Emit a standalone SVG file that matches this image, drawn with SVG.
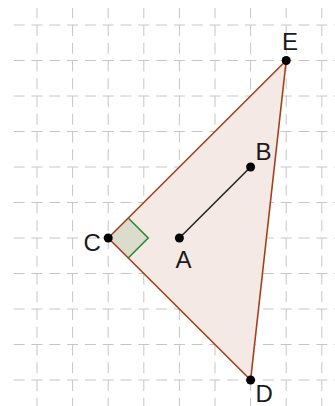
<svg xmlns="http://www.w3.org/2000/svg" width="335" height="406" viewBox="0 0 335 406">
  <style>
    .gh { stroke: #c6c6c6; stroke-width: 1; stroke-dasharray: 11 6.8; stroke-dashoffset: 16.1; fill: none; }
    .gv { stroke: #c6c6c6; stroke-width: 1; stroke-dasharray: 11 6.75; stroke-dashoffset: 0.75; fill: none; }
    .pt { fill: #000; }
    .lbl { font-family: "Liberation Sans", Arial, sans-serif; font-size: 24px; fill: #1a1a1a; }
    .edge { stroke: #a3401a; stroke-width: 1.6; fill: none; stroke-linecap: round; }
  </style>
  <rect width="335" height="406" fill="#ffffff"/>
  <g id="grid">
    <line class="gh" x1="12" y1="25" x2="335" y2="25"/>
    <line class="gh" x1="12" y1="60.5" x2="335" y2="60.5"/>
    <line class="gh" x1="12" y1="96" x2="335" y2="96"/>
    <line class="gh" x1="12" y1="131.5" x2="335" y2="131.5"/>
    <line class="gh" x1="12" y1="167" x2="335" y2="167"/>
    <line class="gh" x1="12" y1="202.5" x2="335" y2="202.5"/>
    <line class="gh" x1="12" y1="238" x2="335" y2="238"/>
    <line class="gh" x1="12" y1="273.5" x2="335" y2="273.5"/>
    <line class="gh" x1="12" y1="309" x2="335" y2="309"/>
    <line class="gh" x1="12" y1="344.5" x2="335" y2="344.5"/>
    <line class="gh" x1="12" y1="380" x2="335" y2="380"/>
    <line class="gv" x1="37" y1="8" x2="37" y2="406"/>
    <line class="gv" x1="72.6" y1="8" x2="72.6" y2="406"/>
    <line class="gv" x1="108.2" y1="8" x2="108.2" y2="406"/>
    <line class="gv" x1="143.8" y1="8" x2="143.8" y2="406"/>
    <line class="gv" x1="179.4" y1="8" x2="179.4" y2="406"/>
    <line class="gv" x1="215" y1="8" x2="215" y2="406"/>
    <line class="gv" x1="250.6" y1="8" x2="250.6" y2="406"/>
    <line class="gv" x1="286.2" y1="8" x2="286.2" y2="406"/>
    <line class="gv" x1="321.8" y1="8" x2="321.8" y2="406"/>
  </g>
  <g id="triangle-CDE">
    <polygon points="108.2,238 286.2,60.5 250.6,380" fill="#f5e9e5" stroke="none"/>
  </g>
  <g id="right-angle-C">
    <polygon points="108.2,238 128.2,218 148.2,238 128.2,258" fill="#dcdccd" stroke="none"/>
    <polyline points="128.2,218 148.2,238 128.2,258" fill="none" stroke="#2e8b2e" stroke-width="1.6" stroke-linejoin="miter"/>
  </g>
  <g id="connectors">
    <line class="edge" x1="108.2" y1="238" x2="286.2" y2="60.5"/>
    <line class="edge" x1="286.2" y1="60.5" x2="250.6" y2="380"/>
    <line class="edge" x1="250.6" y1="380" x2="108.2" y2="238"/>
    <line x1="179.4" y1="238" x2="250.6" y2="167" stroke="#262626" stroke-width="1.6"/>
  </g>
  <g id="point-A">
    <circle class="pt" cx="179.4" cy="238" r="4.5"/>
    <text class="lbl" x="175.5" y="268">A</text>
  </g>
  <g id="point-B">
    <circle class="pt" cx="250.6" cy="167" r="4.5"/>
    <text class="lbl" x="255.5" y="159.5">B</text>
  </g>
  <g id="point-C">
    <circle class="pt" cx="108.2" cy="238" r="4.5"/>
    <text class="lbl" x="83.5" y="250.5">C</text>
  </g>
  <g id="point-D">
    <circle class="pt" cx="250.6" cy="380" r="4.5"/>
    <text class="lbl" x="255.5" y="402">D</text>
  </g>
  <g id="point-E">
    <circle class="pt" cx="286.2" cy="60.5" r="4.5"/>
    <text class="lbl" x="282" y="49.5">E</text>
  </g>
</svg>
